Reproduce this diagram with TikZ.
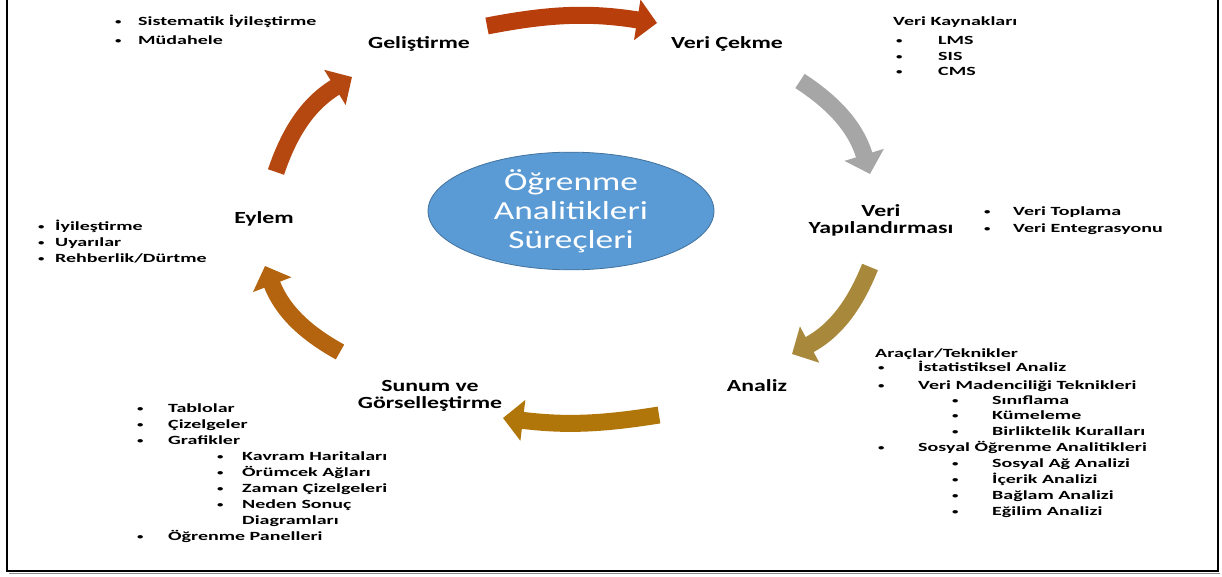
\documentclass[tikz,border=0pt]{standalone}
\usepackage{fontspec}
\setmainfont{Carlito}
\newfontfamily\labelfam[FakeStretch=1.4]{Carlito}
\newfontfamily\listfam[FakeStretch=1.6]{Carlito}
\newfontfamily\ovalfam[FakeStretch=1.36]{Carlito}
\usetikzlibrary{arrows.meta,shapes.geometric}

\definecolor{arrRed}{RGB}{184,62,12}
\definecolor{arrGrey}{RGB}{166,166,166}
\definecolor{arrKhaki}{RGB}{168,136,58}
\definecolor{arrOchre}{RGB}{176,118,10}
\definecolor{arrAmber}{RGB}{180,100,14}
\definecolor{arrRust}{RGB}{180,72,16}
\definecolor{ovalBlue}{RGB}{91,155,213}
\definecolor{ovalEdge}{RGB}{65,113,156}

% small bullet followed by a fixed gap before the item text
\newcommand\itembul[1]{\makebox[#1pt][l]{\raisebox{0.8pt}{\fontsize{8}{8}\selectfont •}}}

\tikzset{
  stage/.style={font=\labelfam\bfseries\fontsize{17}{17}\selectfont, align=center, inner sep=0},
  li/.style={anchor=base west, inner sep=0, font=\listfam\bfseries\fontsize{12.5}{14}\selectfont},
  cyclearrow/.style={line width=17pt, -{Triangle[length=20pt,width=40pt]}},
}

\begin{document}
\begin{tikzpicture}[x=1pt,y=-1pt]
\useasboundingbox (0,0) rectangle (1222,576);

% frame
\draw[line width=1.3pt, black!45] (9,573.6) -- (1220,573.6);
\draw[line width=2.5pt] (7,-10) -- (7,571) -- (1218,571) -- (1218,-10);

% central ellipse
\node[ellipse, minimum width=286pt, minimum height=116pt, inner sep=0,
      fill=ovalBlue, draw=ovalEdge, line width=0.8pt, text=white, align=center,
      font=\ovalfam\fontsize{26}{29}\selectfont] (core) at (571,211)
      {Öğrenme\\Analitikleri\\Süreçleri};

% stage labels
\node[stage] (gel) at (419,44) {Geliştirme};
\node[stage] (cek) at (727,44) {Veri Çekme};
\node[stage] (yap) at (881,220) {Veri\\Yapılandırması};
\node[stage] (ana) at (757,386) {Analiz};
\node[stage] (sun) at (430,396) {Sunum ve\\Görselleştirme};
\node[stage] (eyl) at (264,219) {Eylem};

% arrow end points
\coordinate (a1s) at (487,26);  \coordinate (a1e) at (657,23);
\coordinate (a2s) at (800,81);  \coordinate (a2e) at (870,174);
\coordinate (a3s) at (870,267); \coordinate (a3e) at (792,354);
\coordinate (a4s) at (659,415); \coordinate (a4e) at (503,418);
\coordinate (a5s) at (340,352); \coordinate (a5e) at (265,266);
\coordinate (a6s) at (276,172); \coordinate (a6e) at (352,77);

\draw[cyclearrow, arrRed]   (a1s) to[bend left=10] (a1e);
\draw[cyclearrow, arrGrey]  (a2s) to[bend left=20] (a2e);
\draw[cyclearrow, arrKhaki] (a3s) to[bend left=20] (a3e);
\draw[cyclearrow, arrOchre] (a4s) to[bend left=8]  (a4e);
\draw[cyclearrow, arrAmber] (a5s) to[bend left=20] (a5e);
\draw[cyclearrow, arrRust]  (a6s) to[bend left=20] (a6e);

% Geliştirme items
\node[li] (g1) at (115,25) {\itembul{23}Sistematik İyileştirme};
\node[li] (g2) at (115,44) {\itembul{23}Müdahele};

% Veri Çekme items
\node[li] (c0) at (893,25) {Veri Kaynakları};
\node[li] (c1) at (896,44) {\itembul{42}LMS};
\node[li] (c2) at (896,60) {\itembul{42}SIS};
\node[li] (c3) at (896,75) {\itembul{42}CMS};

% Veri Yapılandırması items
\node[li] (y1) at (984,215) {\itembul{29}Veri Toplama};
\node[li] (y2) at (984,232) {\itembul{29}Veri Entegrasyonu};

% Eylem items
\node[li] (e1) at (38,230) {\itembul{17}İyileştirme};
\node[li] (e2) at (38,246) {\itembul{17}Uyarılar};
\node[li] (e3) at (38,262) {\itembul{17}Rehberlik/Dürtme};

% Analiz items
\node[li] (n0)  at (875,357) {Araçlar/Teknikler};
\node[li] (n1)  at (878,371) {\itembul{40}İstatistiksel Analiz};
\node[li] (n2)  at (878,389) {\itembul{40}Veri Madenciliği Teknikleri};
\node[li] (n21) at (952,404) {\itembul{40}Sınıflama};
\node[li] (n22) at (952,419) {\itembul{40}Kümeleme};
\node[li] (n23) at (952,435) {\itembul{40}Birliktelik Kuralları};
\node[li] (n3)  at (878,451) {\itembul{40}Sosyal Öğrenme Analitikleri};
\node[li] (n31) at (952,467) {\itembul{40}Sosyal Ağ Analizi};
\node[li] (n32) at (952,483) {\itembul{40}İçerik Analizi};
\node[li] (n33) at (952,499) {\itembul{40}Bağlam Analizi};
\node[li] (n34) at (952,515) {\itembul{40}Eğilim Analizi};

% Sunum ve Görselleştirme items
\node[li] (s1)  at (137,412) {\itembul{31}Tablolar};
\node[li] (s2)  at (137,428) {\itembul{31}Çizelgeler};
\node[li] (s3)  at (137,444) {\itembul{31}Grafikler};
\node[li] (s31) at (217,460) {\itembul{25}Kavram Haritaları};
\node[li] (s32) at (217,476) {\itembul{25}Örümcek Ağları};
\node[li] (s33) at (217,492) {\itembul{25}Zaman Çizelgeleri};
\node[li] (s34) at (217,508) {\itembul{25}Neden Sonuç};
\node[li] (s35) at (242,524) {Diagramları};
\node[li] (s4)  at (137,540) {\itembul{31}Öğrenme Panelleri};
\end{tikzpicture}
\end{document}
